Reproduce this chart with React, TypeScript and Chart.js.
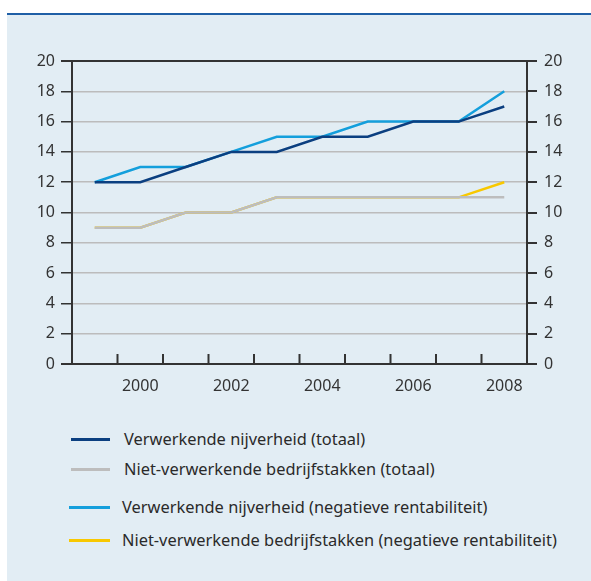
import React, { useEffect, useRef } from "react";
import { Chart, registerables } from "chart.js";

Chart.register(...registerables);

const years = ["1999", "2000", "2001", "2002", "2003", "2004", "2005", "2006", "2007", "2008"];
const verwerkendTotaal = [12, 12, 13, 14, 14, 15, 15, 16, 16, 17];
const nietVerwerkendTotaal = [9, 9, 10, 10, 11, 11, 11, 11, 11, 11];
const verwerkendNegatief = [12, 13, 13, 14, 15, 15, 16, 16, 16, 18];
const nietVerwerkendNegatief = [9, 9, 10, 10, 11, 11, 11, 11, 11, 12];
const seriesNames = [
  "Verwerkende nijverheid (totaal)",
  "Niet-verwerkende bedrijfstakken (totaal)",
  "Verwerkende nijverheid (negatieve rentabiliteit)",
  "Niet-verwerkende bedrijfstakken (negatieve rentabiliteit)",
];
const seriesColors = ["#0b3f80", "#bdbdbd", "#149fdc", "#f8c800"];
const yTicks = [0, 2, 4, 6, 8, 10, 12, 14, 16, 18, 20];

const FONT = "'Noto Sans', 'Open Sans', sans-serif";
const DARK = "#333333";

const innerTicks = {
  id: "innerTicks",
  afterDraw(chart: any) {
    const x = chart.scales.x;
    const { ctx, chartArea } = chart;
    ctx.save();
    ctx.strokeStyle = DARK;
    ctx.lineWidth = 2;
    for (let i = 0; i < years.length - 1; i++) {
      const px = (x.getPixelForValue(i) + x.getPixelForValue(i + 1)) / 2;
      ctx.beginPath();
      ctx.moveTo(px, chartArea.bottom);
      ctx.lineTo(px, chartArea.bottom - 10);
      ctx.stroke();
    }
    ctx.restore();
  },
};

export default function App() {
  const ref = useRef<HTMLCanvasElement>(null);
  useEffect(() => {
    if (!ref.current) return;
    const data = [verwerkendTotaal, nietVerwerkendTotaal, verwerkendNegatief, nietVerwerkendNegatief];
    const chart = new Chart(ref.current, {
      type: "line",
      data: {
        labels: years,
        datasets: data.map((d, i) => ({
          label: seriesNames[i],
          data: d,
          borderColor: seriesColors[i],
          backgroundColor: seriesColors[i],
          borderWidth: 2.5,
          pointRadius: 0,
          tension: 0,
          fill: false,
        })),
      },
      options: {
        animation: false,
        responsive: false,
        maintainAspectRatio: false,
        events: [],
        layout: { padding: { top: 61, left: 0, right: 0, bottom: 0 } },
        plugins: { legend: { display: false }, tooltip: { enabled: false } },
        scales: {
          x: {
            type: "category",
            offset: true,
            grid: { display: false, drawTicks: false },
            border: { display: true, color: DARK, width: 2 },
            ticks: {
              autoSkip: false,
              maxRotation: 0,
              padding: 13,
              color: DARK,
              font: { family: FONT, size: 16 },
              callback: (_v: any, i: number) => (Number(years[i]) % 2 === 0 ? years[i] : ""),
            },
            afterFit: (s: any) => {
              s.height = 36;
            },
          },
          y: {
            position: "left",
            min: 0,
            max: 20,
            afterBuildTicks: (s: any) => {
              s.ticks = yTicks.map((v) => ({ value: v }));
            },
            grid: {
              color: (c: any) => (c.tick && (c.tick.value === 0 || c.tick.value === 20) ? DARK : "#bcbcbc"),
              lineWidth: (c: any) => (c.tick && (c.tick.value === 0 || c.tick.value === 20) ? 2 : 1.5),
              tickColor: DARK,
              tickLength: 11,
            },
            border: { display: true, color: DARK, width: 2 },
            ticks: { padding: 6, color: DARK, font: { family: FONT, size: 16 } },
            afterFit: (s: any) => {
              s.width = 72;
            },
          },
          y2: {
            position: "right",
            min: 0,
            max: 20,
            afterBuildTicks: (s: any) => {
              s.ticks = yTicks.map((v) => ({ value: v }));
            },
            grid: { drawOnChartArea: false, tickColor: DARK, tickLength: 10, lineWidth: 2 },
            border: { display: true, color: DARK, width: 2 },
            ticks: { padding: 7, color: DARK, font: { family: FONT, size: 16 } },
            afterFit: (s: any) => {
              s.width = 64;
            },
          },
        },
      },
      plugins: [innerTicks],
    } as any);
    return () => chart.destroy();
  }, []);

  const legendRows = [
    { y: 439, x1: 71, w: 39, tx: 124 },
    { y: 469, x1: 71, w: 39, tx: 124 },
    { y: 507, x1: 69, w: 41, tx: 122 },
    { y: 540, x1: 69, w: 41, tx: 122 },
  ];

  return (
    <div style={{ position: "absolute", left: 0, top: 0, width: 591, height: 581, overflow: "hidden", background: "#ffffff" }}>
      <div style={{ position: "absolute", left: 7, top: 13, width: 584, height: 2, background: "#1f5fa6" }} />
      <div style={{ position: "absolute", left: 7, top: 15, width: 584, height: 566, background: "#e2edf4" }} />
      <canvas ref={ref} width={591} height={400} style={{ position: "absolute", left: 0, top: 0, width: 591, height: 400 }} />
      {legendRows.map((r, i) => (
        <React.Fragment key={i}>
          <div
            style={{
              position: "absolute",
              left: r.x1,
              top: r.y - 1,
              width: r.w,
              height: 3,
              background: seriesColors[i],
            }}
          />
          <div
            style={{
              position: "absolute",
              left: r.tx,
              top: r.y - 12,
              height: 24,
              lineHeight: "24px",
              fontFamily: FONT,
              fontSize: 16.4,
              color: "#2a2a2a",
              whiteSpace: "nowrap",
            }}
          >
            {seriesNames[i]}
          </div>
        </React.Fragment>
      ))}
    </div>
  );
}
